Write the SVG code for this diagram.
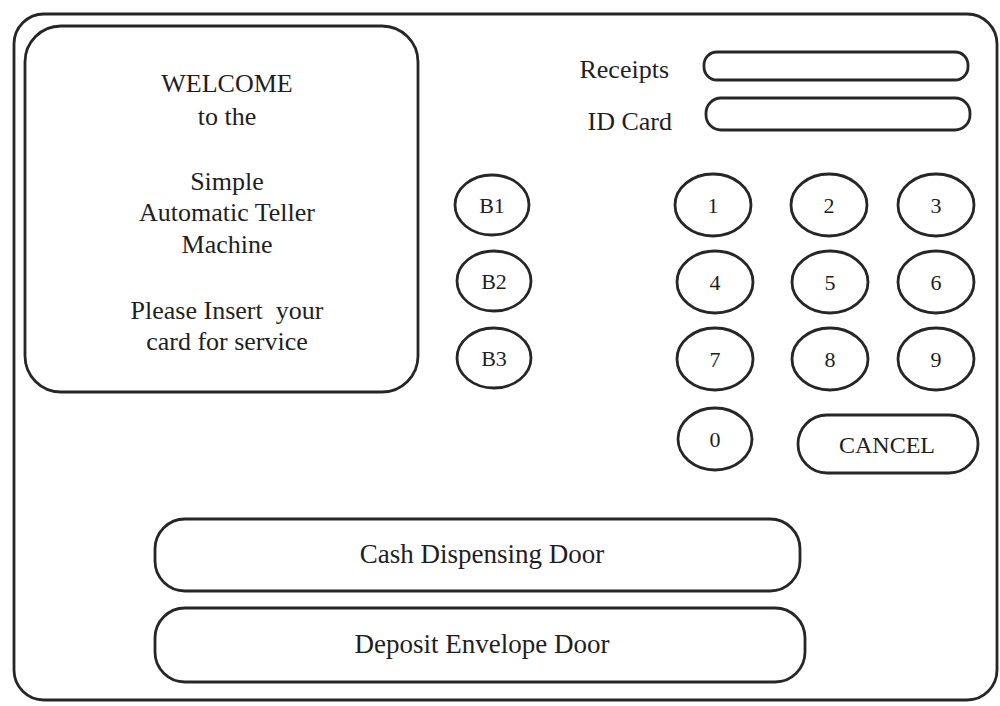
<svg xmlns="http://www.w3.org/2000/svg" width="1000" height="706" viewBox="0 0 1000 706">
<style>
.b{fill:#fff;stroke:#262626;stroke-width:2.8}
.t{font-family:"Liberation Serif","Times New Roman",serif;font-size:26px;fill:#1e1e1e;text-anchor:middle}
.k{font-family:"Liberation Serif","Times New Roman",serif;font-size:22px;fill:#1e1e1e;text-anchor:middle}
</style>
<rect width="1000" height="706" fill="#fff"/>
<g id="atm">
<rect class="b" x="14" y="14" width="983" height="686" rx="30"/>
</g>
<g id="screen">
<rect class="b" x="25" y="26" width="393" height="366" rx="36"/>
<text class="t" x="227" y="92">WELCOME</text>
<text class="t" x="227" y="125">to the</text>
<text class="t" x="227" y="190">Simple</text>
<text class="t" x="227" y="221">Automatic Teller</text>
<text class="t" x="227" y="253">Machine</text>
<text class="t" x="227" y="319" xml:space="preserve">Please Insert  your</text>
<text class="t" x="227" y="350">card for service</text>
</g>
<g id="receipts">
<text class="t" x="669" y="78" style="text-anchor:end">Receipts</text>
<rect class="b" x="704" y="52" width="264" height="28" rx="13"/>
</g>
<g id="idcard">
<text class="t" x="672" y="130" style="text-anchor:end">ID Card</text>
<rect class="b" x="706" y="98" width="264" height="32" rx="15"/>
</g>
<g id="b1"><ellipse class="b" cx="492" cy="205" rx="37" ry="30"/><text class="k" x="492" y="213">B1</text></g>
<g id="b2"><ellipse class="b" cx="494" cy="281" rx="37" ry="30"/><text class="k" x="494" y="289">B2</text></g>
<g id="b3"><ellipse class="b" cx="494" cy="358" rx="37" ry="30"/><text class="k" x="494" y="366">B3</text></g>
<g id="k1"><ellipse class="b" cx="713" cy="205" rx="38" ry="31"/><text class="k" x="713" y="213">1</text></g>
<g id="k2"><ellipse class="b" cx="829" cy="205" rx="38" ry="31"/><text class="k" x="829" y="213">2</text></g>
<g id="k3"><ellipse class="b" cx="936" cy="205" rx="38" ry="31"/><text class="k" x="936" y="213">3</text></g>
<g id="k4"><ellipse class="b" cx="715" cy="282" rx="38" ry="31"/><text class="k" x="715" y="290">4</text></g>
<g id="k5"><ellipse class="b" cx="830" cy="282" rx="38" ry="31"/><text class="k" x="830" y="290">5</text></g>
<g id="k6"><ellipse class="b" cx="936" cy="282" rx="38" ry="31"/><text class="k" x="936" y="290">6</text></g>
<g id="k7"><ellipse class="b" cx="715" cy="359" rx="38" ry="31"/><text class="k" x="715" y="367">7</text></g>
<g id="k8"><ellipse class="b" cx="830" cy="359" rx="38" ry="31"/><text class="k" x="830" y="367">8</text></g>
<g id="k9"><ellipse class="b" cx="936" cy="359" rx="38" ry="31"/><text class="k" x="936" y="367">9</text></g>
<g id="k0"><ellipse class="b" cx="715" cy="439" rx="37" ry="31"/><text class="k" x="715" y="447">0</text></g>
<g id="cancel"><rect class="b" x="798" y="415" width="180" height="58" rx="29"/><text class="k" x="887" y="453" style="font-size:24px">CANCEL</text></g>
<g id="cash"><rect class="b" x="155" y="519" width="645" height="72" rx="30"/><text class="t" x="482" y="563" style="font-size:27px">Cash Dispensing Door</text></g>
<g id="deposit"><rect class="b" x="155" y="608" width="650" height="74" rx="30"/><text class="t" x="482" y="653" style="font-size:27px">Deposit Envelope Door</text></g>
<g id="connectors"></g>
</svg>
